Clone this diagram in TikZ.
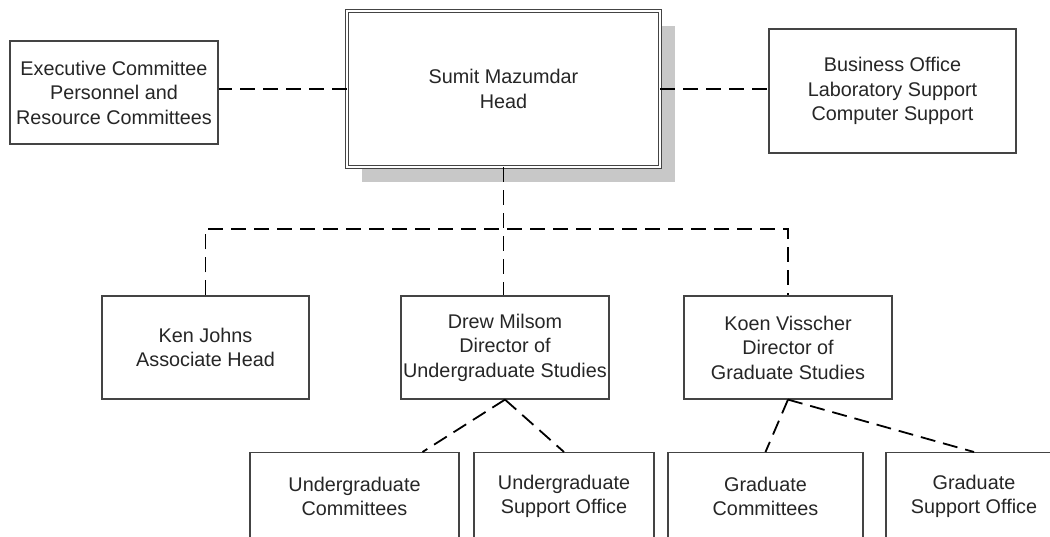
\documentclass[tikz,border=0pt]{standalone}
\usepackage{fontspec}
\setmainfont{Liberation Sans}
\usetikzlibrary{shadows}
\definecolor{boxline}{HTML}{444444}
\definecolor{shadegray}{HTML}{C8C8C8}

\begin{document}
\begin{tikzpicture}[x=1pt, y=-1pt,
    box/.style={rectangle, draw=boxline, line width=1.2pt, fill=white, align=center, inner sep=0pt, text=black!85, font=\fontsize{19.8}{24.5}\selectfont},
    link/.style={draw=black, line width=1.8pt, dash pattern=on 15pt off 8pt}]
    \useasboundingbox (0,0) rectangle (1050,537);
    \clip (0,0) rectangle (1050,537);

    \node [box, minimum width=313pt, minimum height=156pt, double=white, double distance=2pt, line width=0.9pt, drop shadow={shadow xshift=15pt, shadow yshift=-15pt, fill=shadegray, opacity=1}] (head) at (503.5,89) {Sumit Mazumdar\\Head};
    \node [box, minimum width=208pt, minimum height=103pt] (exec) at (114,92.5) {Executive Committee\\Personnel and\\Resource Committees};
    \node [box, minimum width=247pt, minimum height=124pt] (biz) at (892.5,91) {Business Office\\Laboratory Support\\Computer Support};

    \node [box, minimum width=207pt, minimum height=103pt] (ken) at (205.5,347.5) {Ken Johns\\Associate Head};
    \node [box, minimum width=208pt, minimum height=103pt] (drew) at (505,347.5) {Drew Milsom\\Director of\\Undergraduate Studies};
    \node [box, minimum width=208pt, minimum height=103pt] (koen) at (788,347.5) {Koen Visscher\\Director of\\Graduate Studies};

    \node [box, anchor=north, minimum width=209pt, minimum height=88pt] (ugc) at (354.5,452) {Undergraduate\\Committees};
    \node [box, anchor=north, minimum width=180pt, minimum height=88pt] (ugs) at (564,452) {Undergraduate\\Support Office};
    \node [box, anchor=north, minimum width=195pt, minimum height=88pt] (gc) at (765.5,452) {Graduate\\Committees};
    \node [box, anchor=north, minimum width=176pt, minimum height=88pt] (gso) at (974,452) {Graduate\\Support Office};

    \coordinate (bus) at (505,229);

    \draw[link] (head.west) -- (head.west -| exec.east);
    \draw[link] (head.east) -- (head.east -| biz.west);
    \draw[link] (head.south) -- (head.south |- drew.north);
    \draw[link] (ken.north) |- (bus) -| (koen.north);
    \draw[link] (drew.south) -- ([xshift=68pt]ugc.north);
    \draw[link] (drew.south) -- (ugs.north);
    \draw[link] (koen.south) -- (gc.north);
    \draw[link] (koen.south) -- (gso.north);
\end{tikzpicture}
\end{document}
